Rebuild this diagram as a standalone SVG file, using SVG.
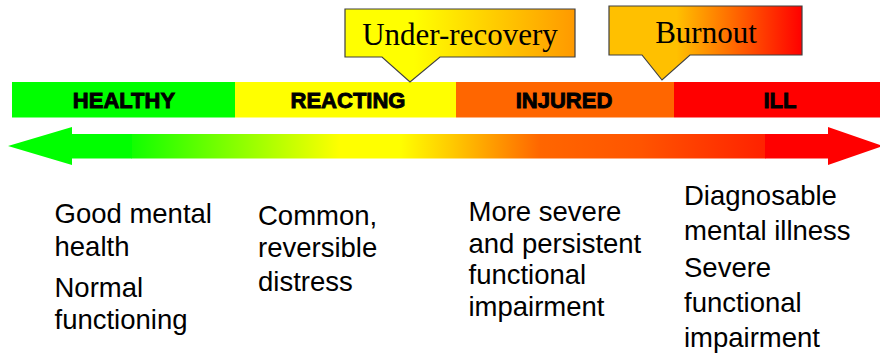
<svg xmlns="http://www.w3.org/2000/svg" width="880" height="357" viewBox="0 0 880 357">
  <style>
    .bar-label { font-family: "Liberation Sans", Arial, sans-serif; font-size: 22px; font-weight: bold; fill: #000; stroke: #000; stroke-width: 0.9px; text-anchor: middle; }
    .callout { stroke: #404040; stroke-width: 1.2px; }
    .callout-text { font-family: "Liberation Serif", "Times New Roman", serif; font-size: 31px; fill: #000; text-anchor: middle; }
    .desc { font-family: "Liberation Sans", Arial, sans-serif; font-size: 27.5px; fill: #000; }
  </style>
  <defs>
    <linearGradient id="gShaft" gradientUnits="userSpaceOnUse" x1="132" y1="0" x2="765" y2="0">
      <stop offset="0" stop-color="#11FF00"/>
      <stop offset="0.329" stop-color="#FFFF00"/>
      <stop offset="0.423" stop-color="#FFFF00"/>
      <stop offset="0.502" stop-color="#FFCC00"/>
      <stop offset="0.645" stop-color="#FF6600"/>
      <stop offset="0.80" stop-color="#FF5500"/>
      <stop offset="1" stop-color="#FF2200"/>
    </linearGradient>
    <linearGradient id="gUnder" gradientUnits="userSpaceOnUse" x1="345" y1="0" x2="575" y2="0">
      <stop offset="0" stop-color="#FFFF00"/>
      <stop offset="0.3" stop-color="#FFFF00"/>
      <stop offset="1" stop-color="#FF9900"/>
    </linearGradient>
    <linearGradient id="gBurn" gradientUnits="userSpaceOnUse" x1="609" y1="0" x2="802" y2="0">
      <stop offset="0" stop-color="#FFC000"/>
      <stop offset="0.35" stop-color="#FFC000"/>
      <stop offset="1" stop-color="#FF0000"/>
    </linearGradient>
  </defs>

  <g id="bar">
    <g id="healthy">
      <rect x="12" y="82" width="223" height="35.5" fill="#00FF00"/>
      <text class="bar-label" x="124" y="108">HEALTHY</text>
    </g>
    <g id="reacting">
      <rect x="235" y="82" width="221" height="35.5" fill="#FFFF00"/>
      <text class="bar-label" x="348" y="108">REACTING</text>
    </g>
    <g id="injured">
      <rect x="456" y="82" width="218" height="35.5" fill="#FF6600"/>
      <text class="bar-label" x="564" y="108">INJURED</text>
    </g>
    <g id="ill">
      <rect x="674" y="82" width="206" height="35.5" fill="#FF0000"/>
      <text class="bar-label" x="780" y="108">ILL</text>
    </g>
  </g>

  <g id="connectors">
    <rect x="131.5" y="134" width="634" height="24.5" fill="url(#gShaft)"/>
    <polygon points="8,146 72,127 72,134 132,134 132,158.5 72,158.5 72,165" fill="#00FF00"/>
    <polygon points="765,134 828,134 828,127 883,146 828,165 828,158.5 765,158.5" fill="#FF0000"/>
  </g>

  <g id="under-recovery">
    <path class="callout" d="M345,9 H575 V57 H440 L410,82 L382,57 H345 Z" fill="url(#gUnder)"/>
    <text class="callout-text" x="460" y="45">Under-recovery</text>
  </g>

  <g id="burnout">
    <path class="callout" d="M609,6 H802 V55 H690 L662,80 L642,55 H609 Z" fill="url(#gBurn)"/>
    <text class="callout-text" x="706" y="43">Burnout</text>
  </g>

  <g id="desc-healthy">
    <text class="desc" x="54.5" y="222.7">Good mental</text>
    <text class="desc" x="54.5" y="256">health</text>
    <text class="desc" x="54.5" y="296.7">Normal</text>
    <text class="desc" x="54.5" y="329">functioning</text>
  </g>
  <g id="desc-reacting">
    <text class="desc" x="258" y="225">Common,</text>
    <text class="desc" x="258" y="257.3">reversible</text>
    <text class="desc" x="258" y="290.7">distress</text>
  </g>
  <g id="desc-injured">
    <text class="desc" x="468.5" y="220.7">More severe</text>
    <text class="desc" x="468.5" y="252.7">and persistent</text>
    <text class="desc" x="468.5" y="284.3">functional</text>
    <text class="desc" x="468.5" y="316">impairment</text>
  </g>
  <g id="desc-ill">
    <text class="desc" x="684" y="205">Diagnosable</text>
    <text class="desc" x="684" y="240">mental illness</text>
    <text class="desc" x="684" y="276.7">Severe</text>
    <text class="desc" x="684" y="311.7">functional</text>
    <text class="desc" x="684" y="346.7">impairment</text>
  </g>
</svg>
